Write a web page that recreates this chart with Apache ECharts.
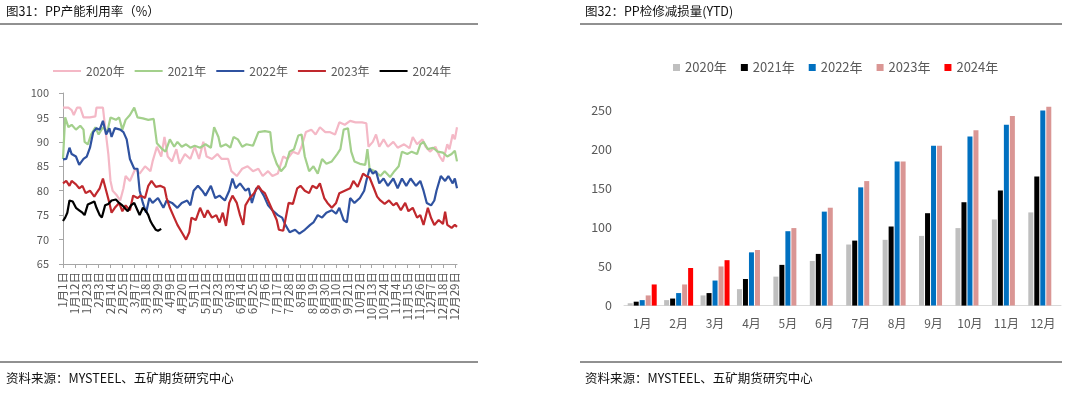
<!DOCTYPE html>
<html><head><meta charset="utf-8">
<script src="https://cdn.jsdelivr.net/npm/echarts@6/dist/echarts.min.js"></script>
<style>html,body{margin:0;padding:0;background:#fff}#c{width:1080px;height:397px}</style>
</head><body><div id="c"></div>
<script>
// ---- left chart: PP capacity utilisation (%), [dayOfYear, value] ----
const monthDays = [31,29,31,30,31,30,31,31,30,31,30,31];
const lineYears = ['2020年','2021年','2022年','2023年','2024年'];
const util2020 = [[0,97],[5,97],[8,96.5],[10,95.5],[13,97],[16,97],[19,95],[25,95],[30,95.2],[31,97],[37,97],[39,93],[42,87.5],[44,82],[46,80],[50,79],[53,78],[56,80.5],[58,83],[62,82],[67,84.5],[71,83.5],[76,85],[81,84],[83,86],[87,89],[91,87],[94,91],[97,87],[101,86],[105,88.5],[108,85.5],[113,87.5],[118,86.5],[122,89],[126,86.5],[130,90],[133,87],[138,86.5],[143,87.5],[147,86.5],[153,86.5],[156,84],[161,83],[166,84.5],[171,85],[176,84],[181,84.5],[185,83],[190,84],[194,83],[199,83.5],[204,87],[208,86.5],[213,88],[218,87.5],[221,89],[225,92],[230,92.5],[234,91.5],[238,93],[243,92],[247,92],[252,91.5],[256,94],[261,93.5],[266,94.3],[271,94],[277,94],[281,93.8],[283,89],[287,90],[290,91.5],[293,89],[297,90.5],[301,89],[306,90],[310,88.8],[316,89.5],[321,88.7],[324,91],[328,89.5],[333,90.5],[336,89],[340,88],[345,89],[349,87],[352,86],[356,89.5],[358,88.5],[361,91.5],[363,90.5],[365,93]];
const util2021 = [[0,86.5],[2,95],[5,93],[8,93.5],[12,92.5],[16,93.3],[19,92.5],[20,90],[23,89.5],[26,91.5],[30,93],[33,91.5],[37,93],[41,92],[44,95],[49,94.5],[52,95],[55,92.5],[58,94.5],[62,95.5],[66,97],[69,95],[74,94.8],[79,94.5],[84,94.7],[87,89.7],[92,88.5],[95,88],[99,90.5],[103,89],[106,90],[110,89],[114,89.5],[118,88.8],[122,89.2],[127,88.8],[132,89.5],[137,88.8],[140,93],[144,91],[146,89],[151,89.5],[155,88.8],[158,91],[162,90.5],[166,89],[170,89.5],[176,89.2],[181,92],[187,92.2],[192,92],[194,88],[198,85.5],[202,84],[206,85],[210,88],[214,88.5],[218,91.3],[221,91.5],[224,87],[228,84],[232,85],[236,83.5],[240,86.5],[244,85.5],[249,86],[254,87.5],[257,88.5],[260,92.5],[264,92.8],[267,88],[270,86],[275,85.5],[280,85.3],[282,88.5],[284,84.5],[289,84],[294,83],[298,84],[303,82.8],[307,84],[311,85],[314,88],[319,87.5],[323,88],[328,87.5],[331,89.5],[334,90],[338,88.5],[343,88.8],[347,88],[352,87.8],[356,87],[360,87.5],[363,88.2],[365,86]];
const util2022 = [[0,86.4],[3,86.5],[6,88.8],[8,87.5],[12,87],[15,85.3],[19,86.5],[22,87],[25,88.8],[28,92],[31,92.8],[34,92.5],[37,94.3],[40,91.5],[43,92.8],[45,91],[48,92.8],[53,92.5],[56,92],[59,90.5],[62,86.5],[66,84.5],[69,84.5],[71,80],[74,77.5],[77,75.5],[80,78.5],[83,77.5],[88,78.5],[93,76.5],[96,78],[101,77.5],[106,76.5],[110,77.5],[115,78],[118,77],[121,80],[125,81],[129,80],[132,79],[137,81],[141,78.5],[145,79],[150,78],[154,80],[157,82.5],[160,80.5],[164,81.5],[169,80],[172,80.5],[175,77.5],[179,80.5],[182,80.5],[186,79],[190,77],[194,76],[199,75],[203,74.5],[206,73],[210,71.5],[215,72],[219,71.2],[224,72],[229,73],[232,73.5],[236,75],[240,74.5],[244,75.5],[249,76],[253,75.3],[256,76.5],[260,74],[263,73.5],[266,78.5],[270,77.5],[275,78.5],[279,80],[281,82],[284,84.5],[287,83.5],[290,84],[293,81.5],[297,82.5],[301,81],[306,82.5],[310,80.5],[314,82.5],[318,81],[322,82.5],[327,81],[331,82],[334,80],[337,77.5],[341,77],[344,78],[346,80],[350,83],[354,82],[357,83],[361,81.5],[363,82.5],[365,80.5]];
const util2023 = [[0,81.5],[3,82],[6,81],[8,82],[12,81.3],[15,80.5],[18,81],[21,79.5],[25,80],[29,78.8],[31,79.5],[34,80.5],[37,82.5],[40,80],[43,77.5],[45,75.5],[48,76.5],[52,77.5],[55,75.8],[58,77],[62,76],[65,79],[69,78.5],[72,79],[76,78.5],[79,81],[82,82],[86,80.8],[90,81],[94,80.6],[96,78.5],[99,76.5],[103,74.5],[106,73],[110,71.5],[114,70],[117,71.5],[119,74.5],[123,74],[127,76.5],[131,74.5],[134,76],[138,74.5],[142,75],[145,73.5],[148,75.5],[151,72.8],[154,77.5],[157,79],[161,77.5],[164,75],[167,73],[169,77],[173,78.5],[177,79.5],[181,81],[184,80],[187,79.5],[190,78],[194,76],[198,74],[200,72],[204,71.8],[206,74],[209,77.5],[213,77.3],[217,80.5],[220,81],[224,80],[228,79.5],[231,81],[235,80.5],[238,81.5],[242,78.5],[245,77.5],[249,76.5],[253,77.5],[256,79.5],[261,80],[266,80.5],[269,82],[273,80.8],[278,83.5],[281,83],[284,82.7],[288,80.5],[291,78.8],[294,78],[298,77.3],[302,78],[306,77],[309,77.5],[313,76],[317,77.5],[320,75.8],[324,76.5],[328,74.5],[331,75],[334,73],[338,76.5],[341,74.4],[344,73],[348,74],[352,73.2],[354,75.7],[356,73],[360,72.4],[363,73],[365,72.6]];
const util2024 = [[0,73.8],[2,74.5],[4,75.5],[6,78],[9,77.8],[12,76.5],[15,76],[18,75.5],[20,75],[23,77.2],[26,77.5],[29,77.8],[31,76.5],[34,75],[36,74.5],[39,77],[42,77.3],[45,78],[49,78.2],[52,77.5],[55,77],[57,76.5],[60,75.8],[63,77],[66,77.5],[69,76],[71,75],[74,76.5],[77,75.8],[79,75],[81,73.8],[83,73],[86,72],[88,71.8],[91,72.2]];
const lineColors = ['#F4B8C6','#A3D08C','#2F52A0','#C0282D','#000000'];

// ---- right chart: PP maintenance loss (YTD) ----
const barMonths = ['1月','2月','3月','4月','5月','6月','7月','8月','9月','10月','11月','12月'];
const loss2020 = [3,7,13,21,37,57,78,84,89,99,110,119];
const loss2021 = [5,9,16,34,52,66,83,101,118,132,147,165];
const loss2022 = [7,16,32,68,95,120,151,184,204,216,231,249];
const loss2023 = [13,27,50,71,99,125,159,184,204,224,242,254];
const loss2024 = [27,48,58];
const barColors = ['#BFBFBF','#000000','#0070C0','#DA9694','#FF0000'];

// day-of-year category labels (leap year)
const dayLabels = [];
monthDays.forEach((n, m) => { for (let d = 1; d <= n; d++) dayLabels.push((m + 1) + '月' + d + '日'); });

const FONT = '"Noto Sans CJK SC", "Noto Sans", sans-serif';
const utilSeries = [util2020, util2021, util2022, util2023, util2024];
const lossSeries = [loss2020, loss2021, loss2022, loss2023, loss2024];

const chart = echarts.init(document.getElementById('c'), null, {renderer: 'canvas'});
chart.setOption({
  animation: false,
  textStyle: {fontFamily: FONT},
  grid: [
    {left: 63, top: 93, width: 394, height: 171},
    {left: 624, top: 102, width: 437, height: 203.6}
  ],
  legend: [
    {
      left: 53, top: 65, padding: 0, itemWidth: 28, itemHeight: 2, itemGap: 10, icon: 'rect',
      textStyle: {color: '#595959', fontSize: 12, fontFamily: FONT},
      data: lineYears.map((n, i) => ({name: n, itemStyle: {color: lineColors[i]}}))
    },
    {
      left: 673, top: 61, padding: 0, itemWidth: 7, itemHeight: 7, itemGap: 14, icon: 'rect',
      textStyle: {color: '#595959', fontSize: 13, fontFamily: FONT},
      data: lineYears.map((n, i) => ({name: n, itemStyle: {color: barColors[i]}}))
    }
  ],
  xAxis: [
    {
      type: 'category', gridIndex: 0, data: dayLabels, boundaryGap: false,
      axisLine: {lineStyle: {color: '#A6A6A6'}},
      axisTick: {interval: 10, length: 4, lineStyle: {color: '#A6A6A6'}},
      axisLabel: {interval: 10, rotate: 90, fontSize: 11.5, color: '#595959', margin: 8, fontFamily: FONT}
    },
    {
      type: 'category', gridIndex: 1, data: barMonths,
      axisLine: {lineStyle: {color: '#D9D9D9'}},
      axisTick: {show: false},
      axisLabel: {fontSize: 12, color: '#595959', margin: 12, fontFamily: FONT}
    }
  ],
  yAxis: [
    {
      type: 'value', gridIndex: 0, min: 65, max: 100, interval: 5,
      axisLine: {show: true, lineStyle: {color: '#A6A6A6'}},
      axisTick: {show: true, length: 4, lineStyle: {color: '#A6A6A6'}},
      splitLine: {show: false},
      axisLabel: {fontSize: 11, color: '#595959', margin: 14, fontFamily: FONT}
    },
    {
      type: 'value', gridIndex: 1, min: 0, max: 260, interval: 50,
      axisLine: {show: false}, axisTick: {show: false}, splitLine: {show: false},
      axisLabel: {fontSize: 12.5, color: '#595959', margin: 12, showMaxLabel: false, fontFamily: FONT}
    }
  ],
  series: [
    ...utilSeries.map((d, i) => ({
      name: lineYears[i], type: 'line', xAxisIndex: 0, yAxisIndex: 0,
      data: d, symbol: 'none', showSymbol: false, z: 2 + i,
      lineStyle: {width: 2.2, color: lineColors[i]}, itemStyle: {color: lineColors[i]}
    })),
    ...lossSeries.map((d, i) => ({
      name: lineYears[i], type: 'bar', xAxisIndex: 1, yAxisIndex: 1,
      data: d, barWidth: 5, barGap: '20%',
      itemStyle: {color: barColors[i]}
    }))
  ],
  graphic: [
    {type: 'text', left: 6, top: 5, style: {text: '图31：PP产能利用率（%）', fontSize: 12.5, fill: '#111', fontFamily: FONT}},
    {type: 'line', shape: {x1: 0, y1: 24, x2: 478, y2: 24}, style: {stroke: '#222', lineWidth: 1}},
    {type: 'text', left: 585, top: 5, style: {text: '图32：PP检修减损量(YTD)', fontSize: 12.5, fill: '#111', fontFamily: FONT}},
    {type: 'line', shape: {x1: 580, y1: 24, x2: 1062, y2: 24}, style: {stroke: '#222', lineWidth: 1}},
    {type: 'line', shape: {x1: 0, y1: 362, x2: 478, y2: 362}, style: {stroke: '#222', lineWidth: 1}},
    {type: 'line', shape: {x1: 580, y1: 362, x2: 1062, y2: 362}, style: {stroke: '#222', lineWidth: 1}},
    {type: 'text', left: 6, top: 372, style: {text: '资料来源：MYSTEEL、五矿期货研究中心', fontSize: 12.5, fill: '#111', fontFamily: FONT}},
    {type: 'text', left: 585, top: 372, style: {text: '资料来源：MYSTEEL、五矿期货研究中心', fontSize: 12.5, fill: '#111', fontFamily: FONT}}
  ]
});
</script></body></html>
